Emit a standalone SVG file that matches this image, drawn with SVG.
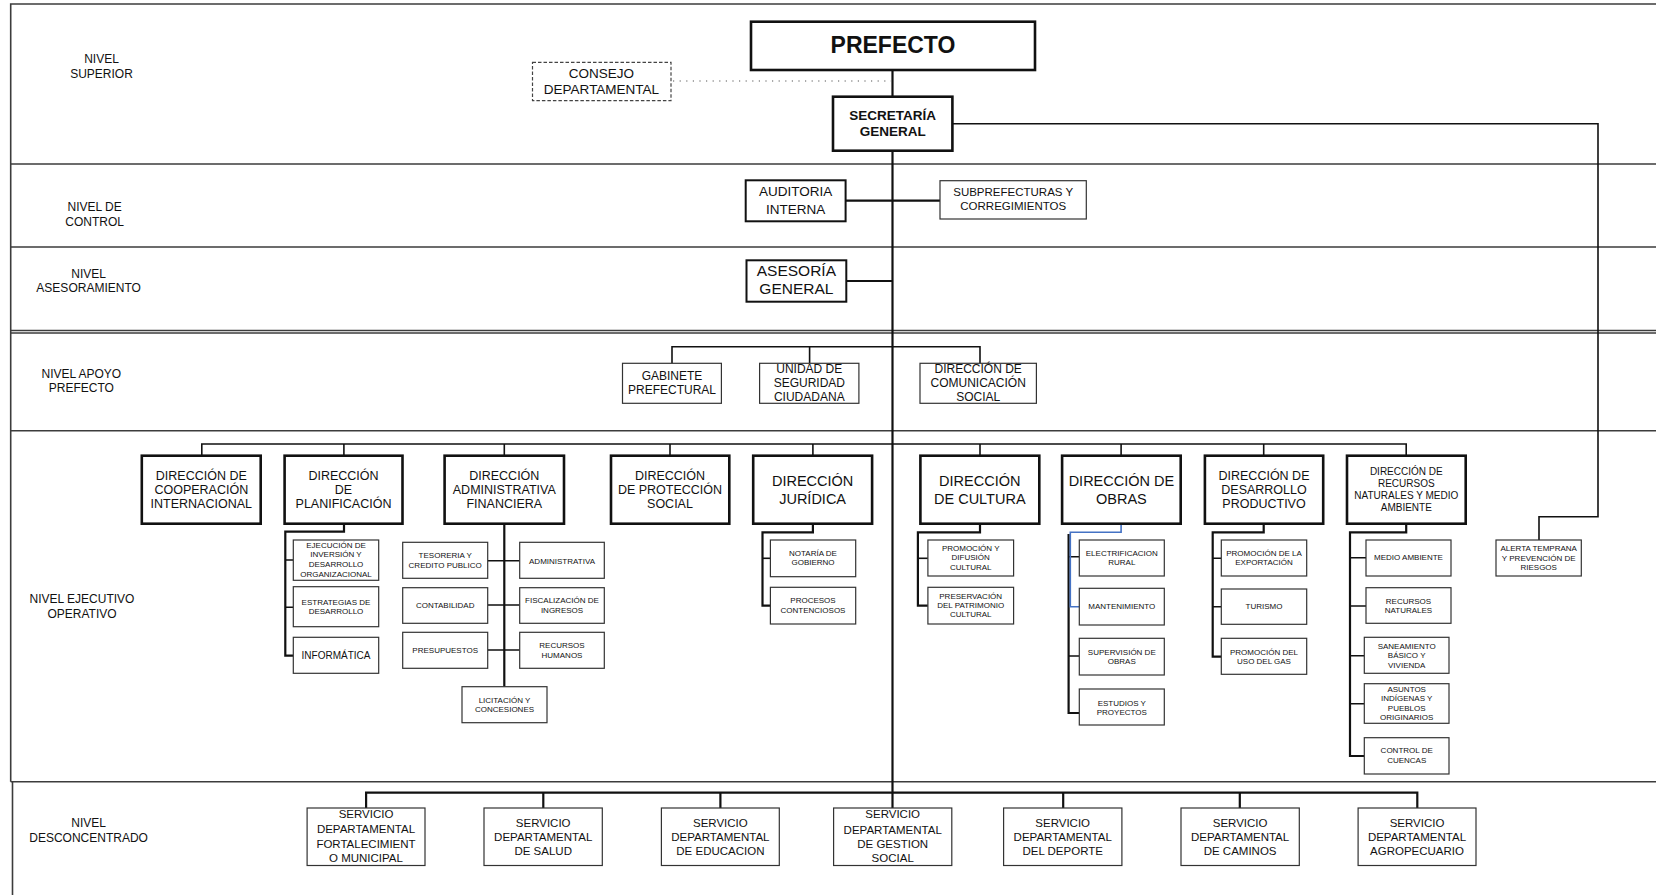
<svg xmlns="http://www.w3.org/2000/svg" width="1656" height="895" viewBox="0 0 1656 895">
<style>
.band{stroke:#3c3c3c;stroke-width:1.6;fill:none}
.c{stroke:#111;fill:none;stroke-width:1.6}
.cs{stroke:#111;fill:none;stroke-width:2.2}
.cb{stroke:#4472C4;fill:none;stroke-width:1.6}
.dot{stroke:#555;fill:none;stroke-width:1.2;stroke-dasharray:1.2 5.4}
.bx1{fill:#fff;stroke:#111;stroke-width:2.6}
.bx2{fill:#fff;stroke:#111;stroke-width:2}
.bx3{fill:#fff;stroke:#333;stroke-width:1.2}
.bxd{fill:#fff;stroke:#444;stroke-width:1.2;stroke-dasharray:3.5 2}
text{font-family:"Liberation Sans",Arial,sans-serif;fill:#111;text-anchor:middle}
.lv{font-size:12px}
.s8{font-size:8px}
.s10{font-size:10px}
.s115{font-size:11.5px}
.s12{font-size:12px}
.s125{font-size:12.5px}
.s14{font-size:14.5px}
</style>
<rect width="1656" height="895" fill="#fff"/>
<g id="bands">
<path class="band" d="M1656,4H10.7V781.7M10.7,164H1656M10.7,247H1656M10.7,330.5H1656M10.7,333H1656M10.7,430.8H1656M10.7,781.7H1656M12.5,781.7V895"/>
<text class="lv" x="101.5"><tspan x="101.5" y="63.3">NIVEL</tspan><tspan x="101.5" y="78.3">SUPERIOR</tspan></text>
<text class="lv"><tspan x="94.6" y="211.3">NIVEL DE</tspan><tspan x="94.6" y="226.3">CONTROL</tspan></text>
<text class="lv"><tspan x="88.6" y="278.3">NIVEL</tspan><tspan x="88.6" y="291.6">ASESORAMIENTO</tspan></text>
<text class="lv"><tspan x="81.4" y="378.3">NIVEL APOYO</tspan><tspan x="81.4" y="392.3">PREFECTO</tspan></text>
<text class="lv"><tspan x="82" y="603">NIVEL EJECUTIVO</tspan><tspan x="82" y="617.6">OPERATIVO</tspan></text>
<text class="lv"><tspan x="88.6" y="827">NIVEL</tspan><tspan x="88.6" y="841.6">DESCONCENTRADO</tspan></text>
</g>
<g id="connectors">
<path class="cs" d="M892.5,70V809"/>
<path class="dot" d="M673,81H891"/>
<path class="c" d="M952.4,123.7H1598V516.7H1539V540"/>
<path class="cs" d="M845.6,200.7H940M846.3,281H892.5"/>
<path class="c" d="M672,363.3V346.7H980V363.3M809.6,346.7V363.3"/>
<path class="c" d="M201.8,455.7V444H1406.2V455.7M343.9,444V455.7M504.3,444V455.7M670,444V455.7M812.9,444V455.7M980,444V455.7M1121.1,444V455.7M1263.7,444V455.7"/>
<path class="cs" d="M344,523.7V531.7H285.3V655.7H293.3"/>
<path class="c" d="M285.3,560H293.3M285.3,607.3H293.3"/>
<path class="cs" d="M504.3,523.7V686.7"/>
<path class="c" d="M487.7,560.7H519.7M487.7,605H519.7M487.7,650H519.7"/>
<path class="cs" d="M812.9,523.7V532.3H762.5V605.7H770.4"/>
<path class="c" d="M762.5,558.3H770.4"/>
<path class="cs" d="M980,523.7V532.3H917.9V605.7H927.9"/>
<path class="c" d="M917.9,558.3H927.9"/>
<path class="cs" d="M1068.6,534V713H1079.3"/>
<path class="c" d="M1068.6,556.7H1079.3M1068.6,656H1079.3"/>
<path class="cb" d="M1121.1,524.5V532.3H1070.3V606.7H1079.3"/>
<path class="cs" d="M1263.7,523.7V532.3H1212.7V656.7H1221.3"/>
<path class="c" d="M1212.7,558.3H1221.3M1212.7,606.7H1221.3"/>
<path class="cs" d="M1406.2,523.7V532.3H1350V756H1364.3"/>
<path class="c" d="M1350,557.7H1366M1350,606H1366M1350,655.7H1364.3M1350,703.7H1364.3"/>
<path class="cs" d="M366.1,808V792.7H1417.3V808M543.3,792.7V808M720.4,792.7V808M1063.2,792.7V808M1239.8,792.7V808"/>
</g>
<g id="prefecto"><rect class="bx1" x="751" y="21.7" width="284" height="48.3"/><text style="font-size:23px;font-weight:bold" x="893" y="53.3">PREFECTO</text></g>
<g id="consejo"><rect class="bxd" x="532.5" y="62.3" width="138.5" height="38.4"/><text style="font-size:13.5px"><tspan x="601.5" y="78.2">CONSEJO</tspan><tspan x="601.5" y="94.2">DEPARTAMENTAL</tspan></text></g>
<g id="secretaria"><rect class="bx1" x="833" y="96.7" width="119.4" height="54"/><text style="font-size:13.5px;font-weight:bold"><tspan x="892.7" y="119.9">SECRETARÍA</tspan><tspan x="892.7" y="135.6">GENERAL</tspan></text></g>
<g id="auditoria"><rect class="bx2" x="745.7" y="180.3" width="99.9" height="41"/><text style="font-size:13.5px"><tspan x="795.7" y="196">AUDITORIA</tspan><tspan x="795.7" y="214.3">INTERNA</tspan></text></g>
<g id="subprefecturas"><rect class="bx3" x="940" y="180.7" width="146.3" height="38.3"/><text class="s115"><tspan x="1013.2" y="196.4">SUBPREFECTURAS Y</tspan><tspan x="1013.2" y="209.8">CORREGIMIENTOS</tspan></text></g>
<g id="asesoria"><rect class="bx2" x="746.5" y="260.3" width="99.8" height="41.4"/><text style="font-size:15.5px"><tspan x="796.4" y="276.2">ASESORÍA</tspan><tspan x="796.4" y="294.2">GENERAL</tspan></text></g>
<g id="gabinete"><rect class="bx3" x="622.5" y="363.3" width="98.9" height="40"/><text class="s12"><tspan x="672" y="380">GABINETE</tspan><tspan x="672" y="394.3">PREFECTURAL</tspan></text></g>
<g id="seguridad"><rect class="bx3" x="759.6" y="363.3" width="99.3" height="40"/><text class="s12"><tspan x="809.3" y="373.3">UNIDAD DE</tspan><tspan x="809.3" y="387">SEGURIDAD</tspan><tspan x="809.3" y="401">CIUDADANA</tspan></text></g>
<g id="comunicacion"><rect class="bx3" x="920" y="363.3" width="116.4" height="40"/><text class="s12"><tspan x="978.2" y="373.3">DIRECCIÓN DE</tspan><tspan x="978.2" y="387">COMUNICACIÓN</tspan><tspan x="978.2" y="401">SOCIAL</tspan></text></g>
<g id="cooperacion"><rect class="bx1" x="141.8" y="455.7" width="118.9" height="68"/><text class="s125"><tspan x="201.3" y="479.5">DIRECCIÓN DE</tspan><tspan x="201.3" y="493.6">COOPERACIÓN</tspan><tspan x="201.3" y="507.7">INTERNACIONAL</tspan></text></g>
<g id="planificacion"><rect class="bx1" x="284.6" y="455.7" width="117.9" height="68"/><text class="s125"><tspan x="343.5" y="479.5">DIRECCIÓN</tspan><tspan x="343.5" y="494">DE</tspan><tspan x="343.5" y="508.2">PLANIFICACIÓN</tspan></text></g>
<g id="administrativa"><rect class="bx1" x="444.6" y="455.7" width="119.4" height="68"/><text class="s125"><tspan x="504.3" y="480.2">DIRECCIÓN</tspan><tspan x="504.3" y="494.4">ADMINISTRATIVA</tspan><tspan x="504.3" y="508.2">FINANCIERA</tspan></text></g>
<g id="proteccion"><rect class="bx1" x="611" y="455.7" width="118.3" height="68"/><text class="s125"><tspan x="670" y="479.5">DIRECCIÓN</tspan><tspan x="670" y="494.2">DE PROTECCIÓN</tspan><tspan x="670" y="508.2">SOCIAL</tspan></text></g>
<g id="juridica"><rect class="bx1" x="753.2" y="455.7" width="118.9" height="68"/><text class="s14"><tspan x="812.6" y="486.2">DIRECCIÓN</tspan><tspan x="812.6" y="503.5">JURÍDICA</tspan></text></g>
<g id="cultura"><rect class="bx1" x="920.4" y="455.7" width="118.9" height="68"/><text class="s14"><tspan x="979.8" y="486.2">DIRECCIÓN</tspan><tspan x="979.8" y="503.5">DE CULTURA</tspan></text></g>
<g id="obras"><rect class="bx1" x="1062.1" y="455.7" width="118.6" height="68"/><text class="s14"><tspan x="1121.4" y="486.2">DIRECCIÓN DE</tspan><tspan x="1121.4" y="503.5">OBRAS</tspan></text></g>
<g id="productivo"><rect class="bx1" x="1204.9" y="455.7" width="118.3" height="68"/><text class="s125"><tspan x="1264" y="480.2">DIRECCIÓN DE</tspan><tspan x="1264" y="494.2">DESARROLLO</tspan><tspan x="1264" y="508.2">PRODUCTIVO</tspan></text></g>
<g id="recursos"><rect class="bx1" x="1347" y="455.7" width="118.7" height="68"/><text class="s10"><tspan x="1406.3" y="475.3">DIRECCIÓN DE</tspan><tspan x="1406.3" y="487.3">RECURSOS</tspan><tspan x="1406.3" y="499.3">NATURALES Y MEDIO</tspan><tspan x="1406.3" y="511.3">AMBIENTE</tspan></text></g>
<g id="ejecucion"><rect class="bx3" x="293.3" y="540" width="85.4" height="40.3"/><text class="s8"><tspan x="336" y="547.9">EJECUCIÓN DE</tspan><tspan x="336" y="557.4">INVERSIÓN Y</tspan><tspan x="336" y="566.9">DESARROLLO</tspan><tspan x="336" y="576.6">ORGANIZACIONAL</tspan></text></g>
<g id="estrategias"><rect class="bx3" x="293.3" y="586.7" width="85.4" height="40"/><text class="s8"><tspan x="336" y="604.6">ESTRATEGIAS DE</tspan><tspan x="336" y="613.9">DESARROLLO</tspan></text></g>
<g id="informatica"><rect class="bx3" x="293.3" y="637.3" width="85.4" height="36"/><text class="s10" x="336" y="659.3">INFORMÁTICA</text></g>
<g id="tesoreria"><rect class="bx3" x="402.7" y="542.3" width="85" height="36"/><text class="s8"><tspan x="445.2" y="557.9">TESORERIA Y</tspan><tspan x="445.2" y="567.9">CREDITO PUBLICO</tspan></text></g>
<g id="administrativa-sub"><rect class="bx3" x="519.7" y="542.3" width="84.6" height="36"/><text class="s8" x="562" y="563.6">ADMINISTRATIVA</text></g>
<g id="contabilidad"><rect class="bx3" x="402.7" y="587.7" width="85" height="35.6"/><text class="s8" x="445.2" y="607.9">CONTABILIDAD</text></g>
<g id="fiscalizacion"><rect class="bx3" x="519.7" y="587.7" width="84.6" height="35.6"/><text class="s8"><tspan x="562" y="602.9">FISCALIZACIÓN DE</tspan><tspan x="562" y="612.9">INGRESOS</tspan></text></g>
<g id="presupuestos"><rect class="bx3" x="402.7" y="632.3" width="85" height="36"/><text class="s8" x="445.2" y="652.9">PRESUPUESTOS</text></g>
<g id="rrhh"><rect class="bx3" x="519.7" y="632.3" width="84.6" height="36"/><text class="s8"><tspan x="562" y="647.9">RECURSOS</tspan><tspan x="562" y="657.9">HUMANOS</tspan></text></g>
<g id="licitacion"><rect class="bx3" x="462" y="686.7" width="85" height="36"/><text class="s8"><tspan x="504.5" y="702.9">LICITACIÓN Y</tspan><tspan x="504.5" y="712.2">CONCESIONES</tspan></text></g>
<g id="notaria"><rect class="bx3" x="770.4" y="540" width="85.3" height="36.7"/><text class="s8"><tspan x="813" y="556.2">NOTARÍA DE</tspan><tspan x="813" y="565.2">GOBIERNO</tspan></text></g>
<g id="procesos"><rect class="bx3" x="770.4" y="587.3" width="85.3" height="36.7"/><text class="s8"><tspan x="813" y="602.9">PROCESOS</tspan><tspan x="813" y="612.9">CONTENCIOSOS</tspan></text></g>
<g id="promocion-cultural"><rect class="bx3" x="927.9" y="540" width="85.7" height="36"/><text class="s8"><tspan x="970.7" y="551.2">PROMOCIÓN Y</tspan><tspan x="970.7" y="560.2">DIFUSIÓN</tspan><tspan x="970.7" y="569.6">CULTURAL</tspan></text></g>
<g id="preservacion"><rect class="bx3" x="927.9" y="587.3" width="85.7" height="36.7"/><text class="s8"><tspan x="970.7" y="598.9">PRESERVACIÓN</tspan><tspan x="970.7" y="607.9">DEL PATRIMONIO</tspan><tspan x="970.7" y="617.2">CULTURAL</tspan></text></g>
<g id="electrificacion"><rect class="bx3" x="1079.3" y="540" width="85" height="36"/><text class="s8"><tspan x="1121.8" y="555.6">ELECTRIFICACION</tspan><tspan x="1121.8" y="565.2">RURAL</tspan></text></g>
<g id="mantenimiento"><rect class="bx3" x="1079.3" y="588.3" width="85" height="36.7"/><text class="s8" x="1121.8" y="608.9">MANTENIMIENTO</text></g>
<g id="supervision"><rect class="bx3" x="1079.3" y="638.3" width="85" height="36.7"/><text class="s8"><tspan x="1121.8" y="654.6">SUPERVISIÓN DE</tspan><tspan x="1121.8" y="663.9">OBRAS</tspan></text></g>
<g id="estudios"><rect class="bx3" x="1079.3" y="689" width="85" height="36"/><text class="s8"><tspan x="1121.8" y="705.6">ESTUDIOS Y</tspan><tspan x="1121.8" y="714.6">PROYECTOS</tspan></text></g>
<g id="exportacion"><rect class="bx3" x="1221.3" y="540" width="85.4" height="36"/><text class="s8"><tspan x="1264" y="556.2">PROMOCIÓN DE LA</tspan><tspan x="1264" y="565.2">EXPORTACIÓN</tspan></text></g>
<g id="turismo"><rect class="bx3" x="1221.3" y="589" width="85.4" height="35.3"/><text class="s8" x="1264" y="608.9">TURISMO</text></g>
<g id="gas"><rect class="bx3" x="1221.3" y="638.3" width="85.4" height="36"/><text class="s8"><tspan x="1264" y="654.9">PROMOCIÓN DEL</tspan><tspan x="1264" y="663.9">USO DEL GAS</tspan></text></g>
<g id="medio-ambiente"><rect class="bx3" x="1366" y="540" width="85" height="36"/><text class="s8" x="1408.5" y="560.2">MEDIO AMBIENTE</text></g>
<g id="recursos-naturales"><rect class="bx3" x="1366" y="587.7" width="85" height="35.6"/><text class="s8"><tspan x="1408.5" y="603.6">RECURSOS</tspan><tspan x="1408.5" y="612.9">NATURALES</tspan></text></g>
<g id="saneamiento"><rect class="bx3" x="1364.3" y="637.3" width="84.7" height="36"/><text class="s8"><tspan x="1406.7" y="648.9">SANEAMIENTO</tspan><tspan x="1406.7" y="658.2">BÁSICO  Y</tspan><tspan x="1406.7" y="667.6">VIVIENDA</tspan></text></g>
<g id="asuntos"><rect class="bx3" x="1364.3" y="683.7" width="84.7" height="39.6"/><text class="s8"><tspan x="1406.7" y="691.9">ASUNTOS</tspan><tspan x="1406.7" y="701.2">INDÍGENAS Y</tspan><tspan x="1406.7" y="710.6">PUEBLOS</tspan><tspan x="1406.7" y="720.2">ORIGINARIOS</tspan></text></g>
<g id="cuencas"><rect class="bx3" x="1364.3" y="737.7" width="84.7" height="36.3"/><text class="s8"><tspan x="1406.7" y="752.9">CONTROL DE</tspan><tspan x="1406.7" y="762.9">CUENCAS</tspan></text></g>
<g id="alerta"><rect class="bx3" x="1496" y="540" width="85.3" height="36"/><text class="s8"><tspan x="1538.7" y="551.2">ALERTA TEMPRANA</tspan><tspan x="1538.7" y="560.9">Y PREVENCIÓN DE</tspan><tspan x="1538.7" y="569.9">RIESGOS</tspan></text></g>
<g id="sd-fortalecimiento"><rect class="bx3" x="307.1" y="808" width="117.9" height="57.5"/><text class="s115"><tspan x="366" y="818">SERVICIO</tspan><tspan x="366" y="833.3">DEPARTAMENTAL</tspan><tspan x="366" y="847.5">FORTALECIMIENT</tspan><tspan x="366" y="861.7">O MUNICIPAL</tspan></text></g>
<g id="sd-salud"><rect class="bx3" x="484" y="808" width="118.3" height="57.5"/><text class="s115"><tspan x="543.2" y="827.1">SERVICIO</tspan><tspan x="543.2" y="841.1">DEPARTAMENTAL</tspan><tspan x="543.2" y="855.1">DE SALUD</tspan></text></g>
<g id="sd-educacion"><rect class="bx3" x="661.4" y="808" width="117.9" height="57.5"/><text class="s115"><tspan x="720.4" y="827.1">SERVICIO</tspan><tspan x="720.4" y="841.1">DEPARTAMENTAL</tspan><tspan x="720.4" y="855.1">DE EDUCACION</tspan></text></g>
<g id="sd-gestion"><rect class="bx3" x="833.6" y="808" width="118.2" height="57.5"/><text class="s115"><tspan x="892.7" y="818">SERVICIO</tspan><tspan x="892.7" y="834">DEPARTAMENTAL</tspan><tspan x="892.7" y="848">DE GESTION</tspan><tspan x="892.7" y="862">SOCIAL</tspan></text></g>
<g id="sd-deporte"><rect class="bx3" x="1003.6" y="808" width="118.3" height="57.5"/><text class="s115"><tspan x="1062.7" y="827.1">SERVICIO</tspan><tspan x="1062.7" y="841.1">DEPARTAMENTAL</tspan><tspan x="1062.7" y="855.1">DEL DEPORTE</tspan></text></g>
<g id="sd-caminos"><rect class="bx3" x="1181" y="808" width="118.3" height="57.5"/><text class="s115"><tspan x="1240.1" y="827.1">SERVICIO</tspan><tspan x="1240.1" y="841.1">DEPARTAMENTAL</tspan><tspan x="1240.1" y="855.1">DE CAMINOS</tspan></text></g>
<g id="sd-agropecuario"><rect class="bx3" x="1358.1" y="808" width="117.9" height="57.5"/><text class="s115"><tspan x="1417" y="827.1">SERVICIO</tspan><tspan x="1417" y="841.1">DEPARTAMENTAL</tspan><tspan x="1417" y="855.1">AGROPECUARIO</tspan></text></g>
</svg>
